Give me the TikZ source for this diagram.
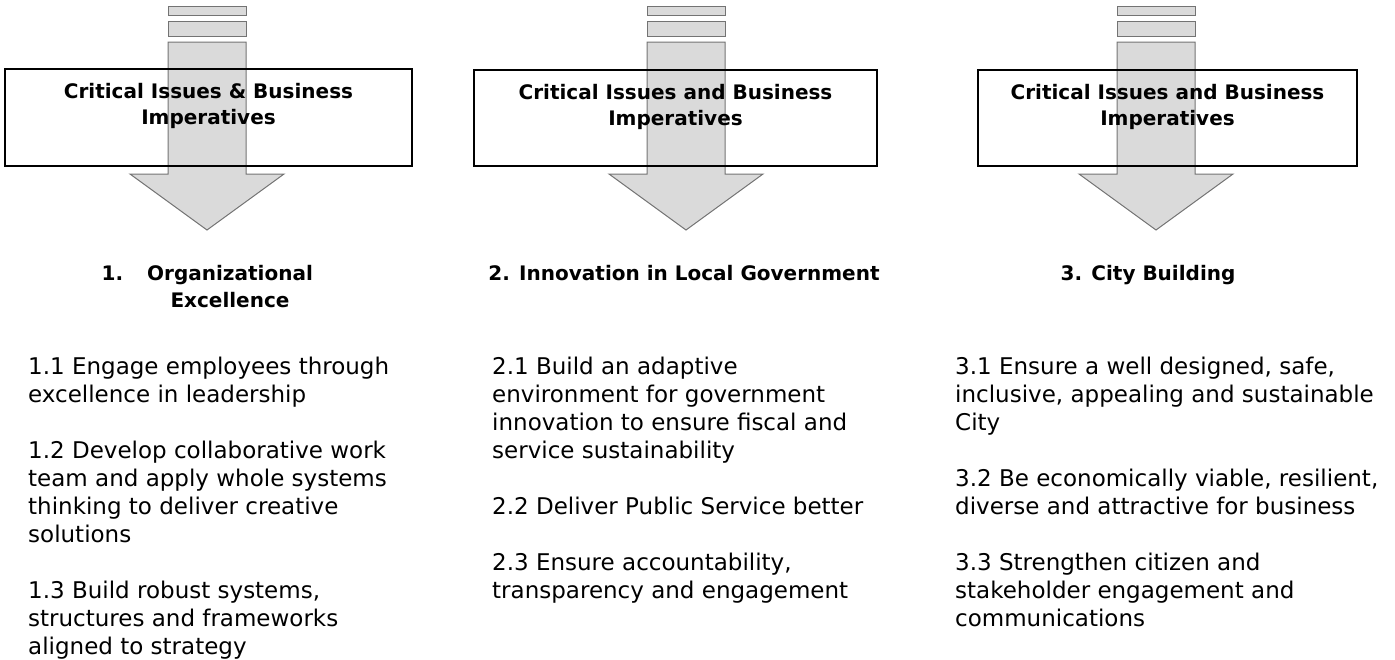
\documentclass[tikz,border=0pt]{standalone}
\usepackage{fontspec}
\setmainfont{DejaVu Sans}
\usetikzlibrary{positioning}

\begin{document}
\begin{tikzpicture}[x=1pt,y=-1pt,
arrowbody/.style={draw=black!55, fill=black!17, fill opacity=.85, line width=1pt},
critbox/.style={draw, line width=1.2pt, inner sep=0pt},
boxtext/.style={font=\bfseries\fontsize{20}{26}\selectfont, align=center, inner sep=0pt},
goal/.style={font=\bfseries\fontsize{20}{27}\selectfont, align=center, inner sep=0pt, anchor=north},
items/.style={font=\fontsize{23}{28}\selectfont, align=left, inner sep=0pt, anchor=north west}]
\useasboundingbox (0,0) rectangle (1395,659);

% striped down arrows
\draw[arrowbody] (168,6) rectangle (246,15);
\draw[arrowbody] (168,21) rectangle (246,36);
\draw[arrowbody] (168,42) -- (168,174) -- (130,174) -- (207,230) -- (284,174) -- (246,174) -- (246,42) -- cycle;
\draw[arrowbody] (647,6) rectangle (725,15);
\draw[arrowbody] (647,21) rectangle (725,36);
\draw[arrowbody] (647,42) -- (647,174) -- (609,174) -- (686,230) -- (763,174) -- (725,174) -- (725,42) -- cycle;
\draw[arrowbody] (1117,6) rectangle (1195,15);
\draw[arrowbody] (1117,21) rectangle (1195,36);
\draw[arrowbody] (1117,42) -- (1117,174) -- (1079,174) -- (1156,230) -- (1233,174) -- (1195,174) -- (1195,42) -- cycle;

\node[critbox, minimum width=407pt, minimum height=97pt] (box1) at (208.5,117.5) {};
\node[critbox, minimum width=403pt, minimum height=96pt] (box2) at (675.5,118) {};
\node[critbox, minimum width=379pt, minimum height=96pt] (box3) at (1167.5,118) {};
\node[boxtext, below=15pt of box1.north] (cap1) {Critical Issues \& Business\\Imperatives};
\node[boxtext, below=15pt of box2.north] (cap2) {Critical Issues and Business\\Imperatives};
\node[boxtext, below=15pt of box3.north] (cap3) {Critical Issues and Business\\Imperatives};

\node[goal] (goal1) at (230,265) {\llap{1.\hspace{24pt}}Organizational\\Excellence};
\node[goal] (goal2) at (684,265) {2. Innovation in Local Government};
\node[goal] (goal3) at (1148,265) {3. City Building};

\node[items] (list1) at (28,357) {1.1 Engage employees through\\excellence in leadership\\[28pt]
1.2 Develop collaborative work\\team and apply whole systems\\thinking to deliver creative\\solutions\\[28pt]
1.3 Build robust systems,\\structures and frameworks\\aligned to strategy};
\node[items] (list2) at (492,357) {2.1 Build an adaptive\\environment for government\\innovation to ensure fiscal and\\service sustainability\\[28pt]
2.2 Deliver Public Service better\\[28pt]
2.3 Ensure accountability,\\transparency and engagement};
\node[items] (list3) at (955,357) {3.1 Ensure a well designed, safe,\\inclusive, appealing and sustainable\\City\\[28pt]
3.2 Be economically viable, resilient,\\diverse and attractive for business\\[28pt]
3.3 Strengthen citizen and\\stakeholder engagement and\\communications};
\end{tikzpicture}
\end{document}
